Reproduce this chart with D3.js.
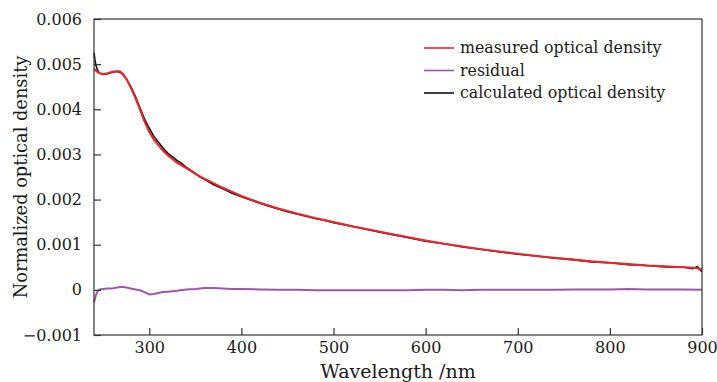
<!DOCTYPE html>
<html>
<head>
<meta charset="utf-8">
<script src="https://cdn.jsdelivr.net/npm/d3@7"></script>
<style>
  html, body { margin: 0; padding: 0; background: #fff; }
  svg { display: block; }
</style>
</head>
<body>
<svg id="chart" width="717" height="382"></svg>
<script>
// ---- data (values in units of 1e-3 normalized optical density) ----
const measuredNm = [240,243,246,250,255,260,265,268,272,276,280,285,290,295,300,305,310,315,320,330,340,350,360,370,380,390,400,420,440,460,480,500,520,540,560,580,600,620,640,660,680,700,720,740,760,780,800,820,840,860,880,890,895,900];
const measuredOD = [4.90,4.84,4.80,4.78,4.80,4.83,4.84,4.84,4.77,4.64,4.48,4.25,3.99,3.72,3.50,3.33,3.20,3.08,2.98,2.82,2.70,2.57,2.46,2.36,2.26,2.17,2.08,1.93,1.80,1.69,1.59,1.50,1.41,1.33,1.25,1.17,1.09,1.02,0.96,0.90,0.85,0.80,0.75,0.71,0.67,0.63,0.60,0.57,0.54,0.52,0.50,0.49,0.48,0.45];

const calculatedNm = [240,241,242,244,246,250,255,260,265,270,275,280,285,290,295,300,305,310,315,320,325,330,335,340,345,350,355,360,370,380,390,400,410,420,430,440,450,460,470,480,490,500,520,540,560,580,600,620,640,660,680,700,720,740,760,780,800,820,840,860,880,890,895,898,900];
const calculatedOD = [5.25,5.10,4.98,4.86,4.80,4.77,4.79,4.82,4.84,4.80,4.68,4.50,4.28,4.03,3.78,3.58,3.40,3.27,3.14,3.03,2.95,2.87,2.80,2.72,2.65,2.58,2.50,2.45,2.33,2.24,2.14,2.06,1.99,1.92,1.85,1.79,1.73,1.68,1.63,1.58,1.54,1.49,1.41,1.32,1.24,1.16,1.08,1.02,0.95,0.90,0.84,0.79,0.75,0.70,0.67,0.62,0.60,0.56,0.54,0.51,0.50,0.47,0.52,0.44,0.40];

const residualNm = [240,242,244,246,250,255,260,265,270,275,280,285,290,295,300,305,310,315,320,330,340,350,360,370,380,390,400,420,440,460,480,500,520,540,560,580,600,620,640,660,680,700,720,740,760,780,800,820,840,860,880,900];
const residualOD = [-0.28,-0.12,-0.03,0.01,0.02,0.03,0.03,0.05,0.07,0.05,0.03,0.01,-0.01,-0.05,-0.10,-0.09,-0.07,-0.05,-0.04,-0.02,0.01,0.02,0.04,0.04,0.03,0.02,0.02,0.01,0.00,0.00,-0.01,-0.01,-0.01,-0.01,-0.01,-0.01,0.00,0.00,-0.01,0.00,0.00,0.00,0.00,0.00,0.01,0.01,0.01,0.02,0.01,0.01,0.01,0.00];

const xTicks = [300,400,500,600,700,800,900];
const yTicks = [-0.001,0,0.001,0.002,0.003,0.004,0.005,0.006];
const yTickLabels = ["\u22120.001","0","0.001","0.002","0.003","0.004","0.005","0.006"];
const legendLabels = ["measured optical density","residual","calculated optical density"];
const colors = {measured:"#e8262b", residual:"#a453b0", calculated:"#111111"};

// ---- layout ----
const FONT = "DejaVu Serif";
const svg = d3.select("#chart");
const mLeft = 94, mRight = 702, mTop = 19, mBottom = 335;
const x = d3.scaleLinear().domain([240, 900]).range([mLeft, mRight]);
const y = d3.scaleLinear().domain([-0.001, 0.006]).range([mBottom, mTop]);

function pts(nm, od) { return nm.map((d, i) => [d, od[i] * 1e-3]); }
const line = d3.line().x(d => x(d[0])).y(d => y(d[1]));

const plot = svg.append("g");
plot.append("path").datum(pts(calculatedNm, calculatedOD))
  .attr("d", line).attr("fill", "none").attr("stroke", colors.calculated).attr("stroke-width", 1.6);
plot.append("path").datum(pts(measuredNm, measuredOD))
  .attr("d", line).attr("fill", "none").attr("stroke", colors.measured).attr("stroke-width", 2.1);
plot.append("path").datum(pts(residualNm, residualOD))
  .attr("d", line).attr("fill", "none").attr("stroke", colors.residual).attr("stroke-width", 2);

// frame
svg.append("rect").attr("x", mLeft).attr("y", mTop).attr("width", mRight - mLeft).attr("height", mBottom - mTop)
  .attr("fill", "none").attr("stroke", "#333").attr("stroke-width", 1.2);

// x axis
const xAxis = d3.axisBottom(x).tickValues(xTicks).tickSizeInner(-7).tickSizeOuter(0).tickPadding(7);
const gx = svg.append("g").attr("transform", `translate(0,${mBottom})`).call(xAxis);
gx.attr("font-family", FONT).attr("font-size", 16);
gx.select(".domain").remove();
gx.selectAll(".tick line").attr("stroke", "#333").attr("stroke-width", 1.2);
gx.selectAll(".tick text").attr("fill", "#1a1a1a");

// y axis
const yAxis = d3.axisLeft(y).tickValues(yTicks).tickFormat((d, i) => yTickLabels[i]).tickSizeInner(-7).tickSizeOuter(0).tickPadding(12);
const gy = svg.append("g").attr("transform", `translate(${mLeft},0)`).call(yAxis);
gy.attr("font-family", FONT).attr("font-size", 16);
gy.select(".domain").remove();
gy.selectAll(".tick line").attr("stroke", "#333").attr("stroke-width", 1.2);
gy.selectAll(".tick text").attr("fill", "#1a1a1a");

// axis titles
svg.append("text").attr("x", (mLeft + mRight) / 2).attr("y", 378).attr("text-anchor", "middle")
  .attr("font-family", FONT).attr("font-size", 19).attr("fill", "#1a1a1a").text("Wavelength /nm");
svg.append("text").attr("transform", `translate(27,${(mTop + mBottom) / 2}) rotate(-90)`).attr("text-anchor", "middle")
  .attr("font-family", FONT).attr("font-size", 17.8).attr("fill", "#1a1a1a").text("Normalized optical density");

// legend
const legColors = [colors.measured, colors.residual, colors.calculated];
const leg = svg.append("g");
legendLabels.forEach((t, i) => {
  const yy = 48 + i * 22.5;
  leg.append("line").attr("x1", 424).attr("x2", 454).attr("y1", yy).attr("y2", yy)
    .attr("stroke", legColors[i]).attr("stroke-width", 1.6);
  leg.append("text").attr("x", 460).attr("y", yy).attr("dy", "0.33em")
    .attr("font-family", FONT).attr("font-size", 15.8).attr("fill", "#1a1a1a").text(t);
});
</script>
</body>
</html>
